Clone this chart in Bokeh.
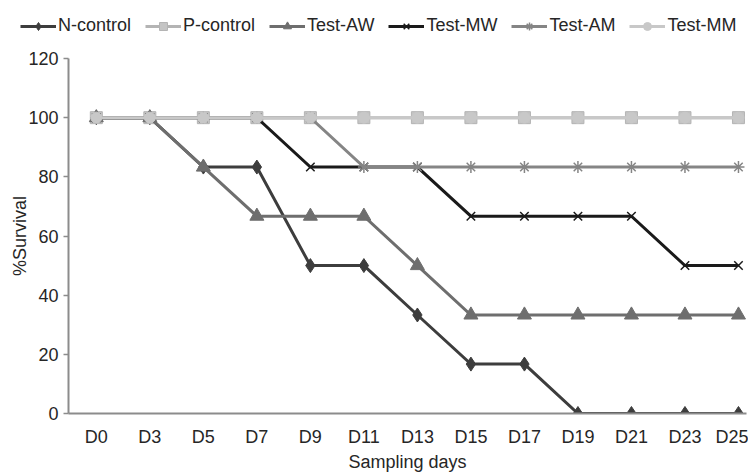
from bokeh.plotting import figure
from bokeh.layouts import column
from bokeh.models import Range1d, FixedTicker, Legend, LegendItem
from bokeh.embed import file_html
from bokeh.resources import INLINE

days = ["D0", "D3", "D5", "D7", "D9", "D11", "D13", "D15", "D17", "D19", "D21", "D23", "D25"]
n_control = [100, 100, 83.3, 83.3, 50, 50, 33.3, 16.7, 16.7, 0, 0, 0, 0]
p_control = [100, 100, 100, 100, 100, 100, 100, 100, 100, 100, 100, 100, 100]
test_aw = [100, 100, 83.3, 66.7, 66.7, 66.7, 50, 33.3, 33.3, 33.3, 33.3, 33.3, 33.3]
test_mw = [100, 100, 100, 100, 83.3, 83.3, 83.3, 66.7, 66.7, 66.7, 66.7, 50, 50]
test_am = [100, 100, 100, 100, 100, 83.3, 83.3, 83.3, 83.3, 83.3, 83.3, 83.3, 83.3]
test_mm = [100, 100, 100, 100, 100, 100, 100, 100, 100, 100, 100, 100, 100]
y_ticks = [0, 20, 40, 60, 80, 100, 120]

FONT = "Liberation Sans"
TXT = "#262626"
AX = "#8c8c8c"

series = [
    ("N-control", n_control, "#3d3d3d", "#3d3d3d", "diamond", 14),
    ("P-control", p_control, "#b4b4b4", "#c4c4c4", "square", 12),
    ("Test-AW", test_aw, "#6e6e6e", "#6e6e6e", "triangle", 14),
    ("Test-MW", test_mw, "#1a1a1a", "#1a1a1a", "x", 12),
    ("Test-AM", test_am, "#858585", "#858585", "asterisk", 12),
    ("Test-MM", test_mm, "#c8c8c8", "#c8c8c8", "circle", 11),
]
xs = list(range(len(days)))


def draw(fig, vals, lc, fc, mk, sz):
    r1 = fig.line(xs, vals, line_color=lc, line_width=3, line_join="miter")
    r2 = fig.scatter(xs, vals, marker=mk, size=sz, fill_color=fc, line_color=lc,
                     line_width=1.5 if mk in ("x", "asterisk") else 1)
    return r1, r2


# legend strip (series drawn outside its view, only the legend shows)
top = figure(width=748, height=44, output_backend="svg", toolbar_location=None,
             x_range=Range1d(100, 101), y_range=Range1d(1000, 1001),
             x_axis_type=None, y_axis_type=None,
             min_border=0, min_border_left=0, min_border_right=0,
             min_border_top=0, min_border_bottom=0)
top.outline_line_color = None
top.grid.visible = False
if "frame_align" in top.properties():
    top.frame_align = False
    lx, gw, sp = 20, 36, 14
else:
    lx, gw, sp = 2, 30, 6

items = []
for name, vals, lc, fc, mk, sz in series:
    r1, r2 = draw(top, vals, lc, fc, mk, sz)
    items.append(LegendItem(label=name, renderers=[r1, r2]))
legend = Legend(items=items, orientation="horizontal", location=(lx, 8),
                glyph_width=gw, glyph_height=20, label_standoff=2, spacing=sp,
                padding=0, margin=0, border_line_color=None, background_fill_alpha=0,
                label_text_font=FONT, label_text_font_size="18px", label_text_color=TXT)
top.add_layout(legend, "center")

p = figure(width=748, height=430, output_backend="svg", toolbar_location=None,
           x_range=Range1d(-0.52, 12.15), y_range=Range1d(0, 120),
           min_border_left=68, min_border_right=2, min_border_top=14, min_border_bottom=60)
p.outline_line_color = None
p.grid.visible = False
if "frame_align" in p.properties():
    p.frame_align = False
for name, vals, lc, fc, mk, sz in series:
    draw(p, vals, lc, fc, mk, sz)

xa = p.xaxis[0]
xa.ticker = FixedTicker(ticks=xs)
xa.major_label_overrides = {i: d for i, d in enumerate(days)}
xa.major_tick_out = 0
xa.major_tick_in = 0
xa.minor_tick_out = 0
xa.minor_tick_in = 0
xa.axis_line_color = AX
xa.axis_line_width = 2
xa.major_label_standoff = 13
xa.major_label_text_font = FONT
xa.major_label_text_font_size = "18px"
xa.major_label_text_color = TXT
xa.axis_label = "Sampling days"
xa.axis_label_text_font = FONT
xa.axis_label_text_font_size = "18px"
xa.axis_label_text_font_style = "normal"
xa.axis_label_text_color = TXT
xa.axis_label_standoff = 2

ya = p.yaxis[0]
ya.ticker = FixedTicker(ticks=y_ticks)
ya.major_tick_out = 5
ya.major_tick_in = 0
ya.minor_tick_out = 0
ya.minor_tick_in = 0
ya.major_tick_line_color = AX
ya.major_tick_line_width = 1.5
ya.axis_line_color = AX
ya.axis_line_width = 2
ya.major_label_standoff = 5
ya.major_label_text_font = FONT
ya.major_label_text_font_size = "18px"
ya.major_label_text_color = TXT
ya.axis_label = "%Survival"
ya.axis_label_text_font = FONT
ya.axis_label_text_font_size = "18px"
ya.axis_label_text_font_style = "normal"
ya.axis_label_text_color = TXT
ya.axis_label_standoff = -5

layout = column(top, p, spacing=0)
open("out.html", "w").write(file_html(layout, INLINE))
